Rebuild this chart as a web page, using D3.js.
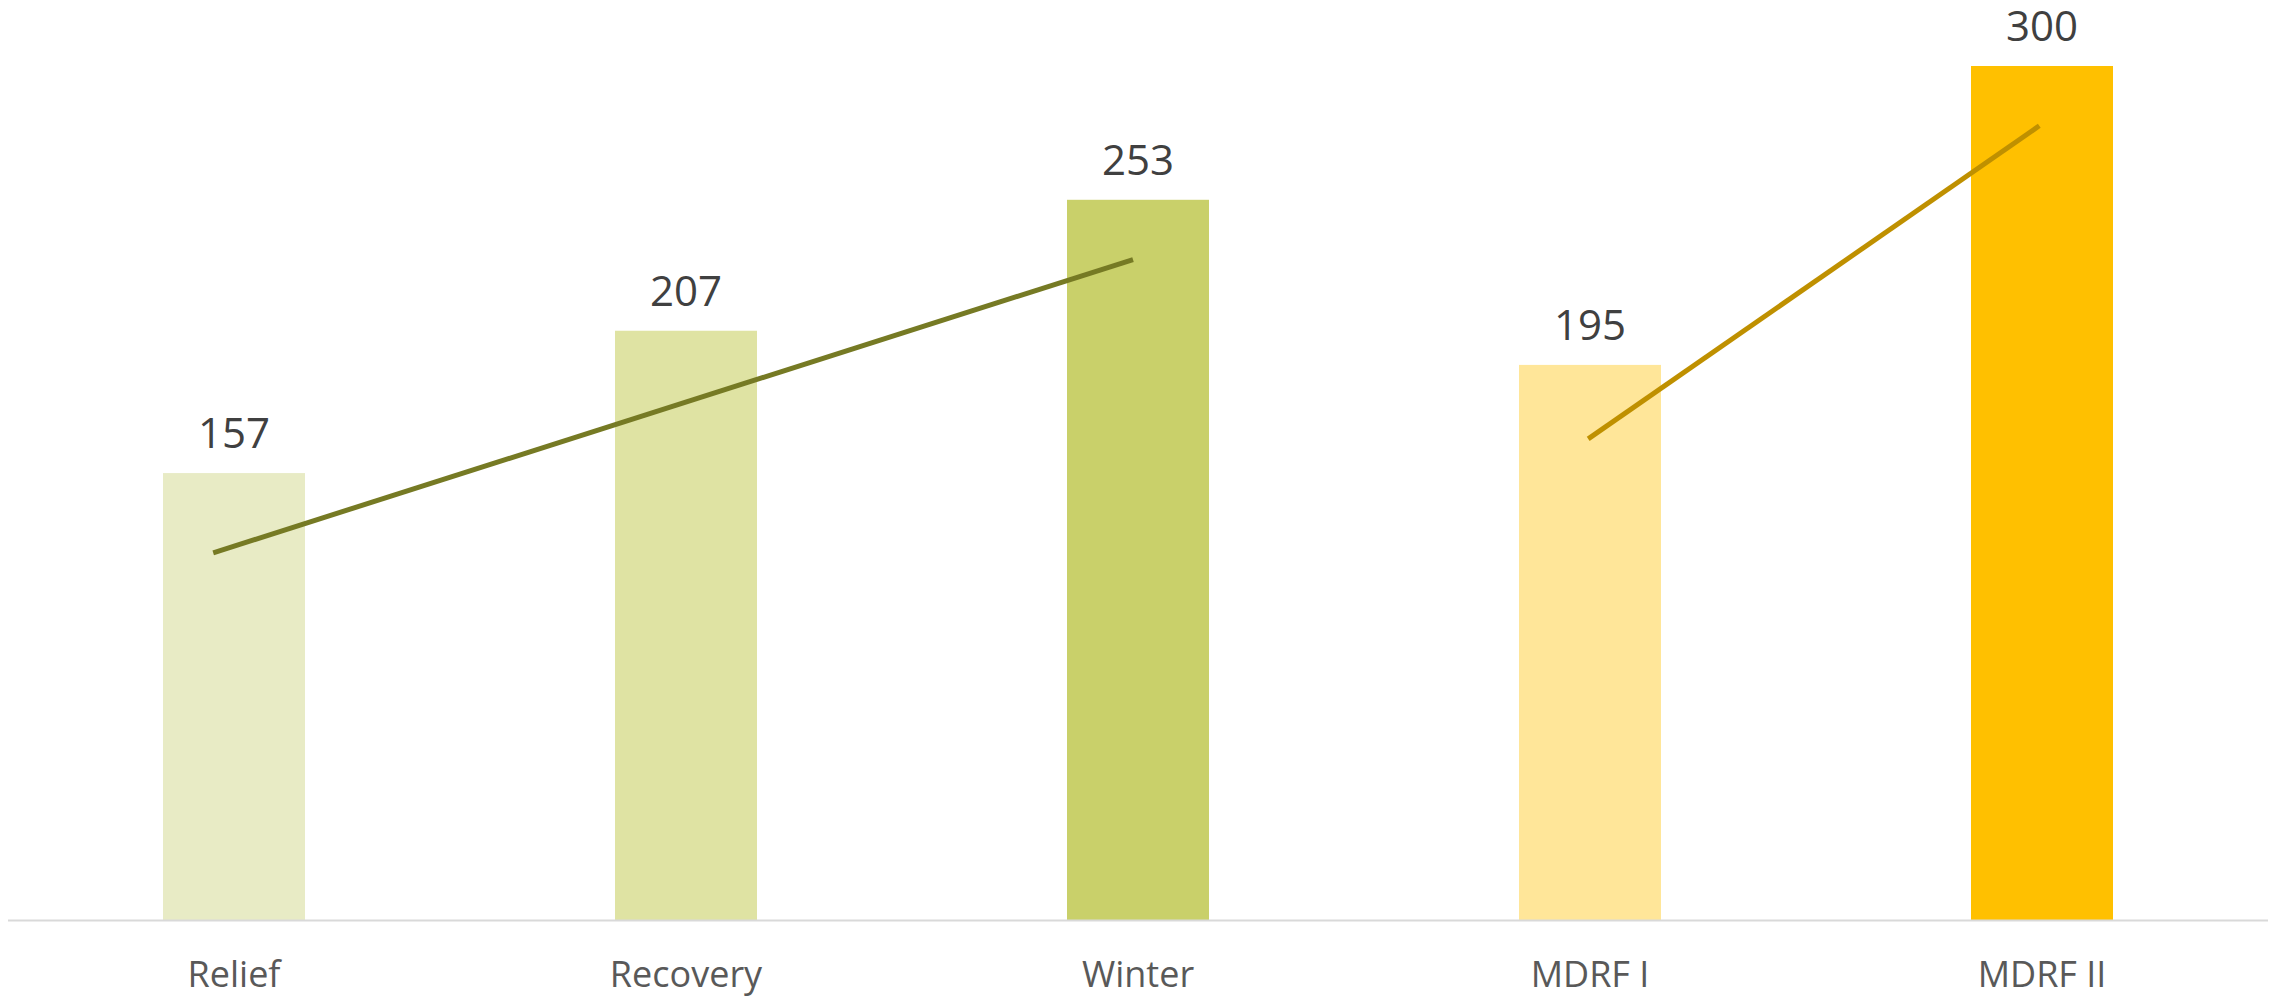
<!DOCTYPE html>
<html>
<head>
<meta charset="utf-8">
<script src="https://cdn.jsdelivr.net/npm/d3@7"></script>
<style>
  html, body { margin: 0; padding: 0; background: #ffffff; }
  svg { display: block; }
</style>
</head>
<body>
<svg id="chart" width="2275" height="998"></svg>
<script>
// ---- data ----
const categories = ["Relief", "Recovery", "Winter", "MDRF I", "MDRF II"];
const values = [157, 207, 253, 195, 300];
const barColors = ["#E8EBC5", "#DFE3A3", "#C9D06A", "#FFE699", "#FFC000"];
// trend lines: x as category index (fractional), y as value
const trendA_x = [-0.046, 1.989];
const trendA_y = [129, 232];
const trendB_x = [-0.004, 0.994].map(d => d + 3);
const trendB_y = [169, 279];
const trendColors = ["#767A24", "#BF9000"];

// ---- layout ----
const W = 2275, H = 998;
const plotLeft = 8, plotRight = 2268, baseY = 920;

const svg = d3.select("#chart");

const x = d3.scaleBand()
  .domain(categories)
  .range([plotLeft, plotRight])
  .paddingInner(1 - 142 / 452)
  .paddingOuter((1 - 142 / 452) / 2);

const step = x.step();
const xIdx = d3.scaleLinear()
  .domain([0, 1])
  .range([x(categories[0]) + x.bandwidth() / 2, x(categories[0]) + x.bandwidth() / 2 + step]);

const y = d3.scaleLinear()
  .domain([0, 300])
  .range([baseY, 66]);

// bars
svg.append("g")
  .selectAll("rect")
  .data(categories)
  .join("rect")
  .attr("x", d => x(d))
  .attr("width", x.bandwidth())
  .attr("y", (d, i) => y(values[i]))
  .attr("height", (d, i) => baseY - y(values[i]))
  .attr("fill", (d, i) => barColors[i]);

// x axis
const xAxis = svg.append("g")
  .attr("transform", `translate(0,${baseY})`)
  .call(d3.axisBottom(x).tickSize(0).tickPadding(0));
xAxis.select(".domain")
  .attr("d", `M${plotLeft},0.5H${plotRight}`)
  .attr("stroke", "#D9D9D9")
  .attr("stroke-width", 2);
xAxis.selectAll(".tick text")
  .attr("y", 67)
  .attr("dy", 0)
  .attr("fill", "#595959")
  .style("font-family", "'Open Sans', sans-serif")
  .style("font-size", "36px");

// value labels
svg.append("g")
  .selectAll("text")
  .data(categories)
  .join("text")
  .attr("x", d => x(d) + x.bandwidth() / 2)
  .attr("y", (d, i) => y(values[i]) - 25)
  .attr("text-anchor", "middle")
  .attr("fill", "#404040")
  .style("font-family", "'Open Sans', sans-serif")
  .style("font-size", "42px")
  .text((d, i) => values[i]);

// trend lines
const line = d3.line().x(d => xIdx(d[0])).y(d => y(d[1]));
const trends = [
  d3.zip(trendA_x, trendA_y),
  d3.zip(trendB_x, trendB_y)
];
svg.append("g")
  .selectAll("path")
  .data(trends)
  .join("path")
  .attr("d", line)
  .attr("fill", "none")
  .attr("stroke", (d, i) => trendColors[i])
  .attr("stroke-width", 5);
</script>
</body>
</html>
